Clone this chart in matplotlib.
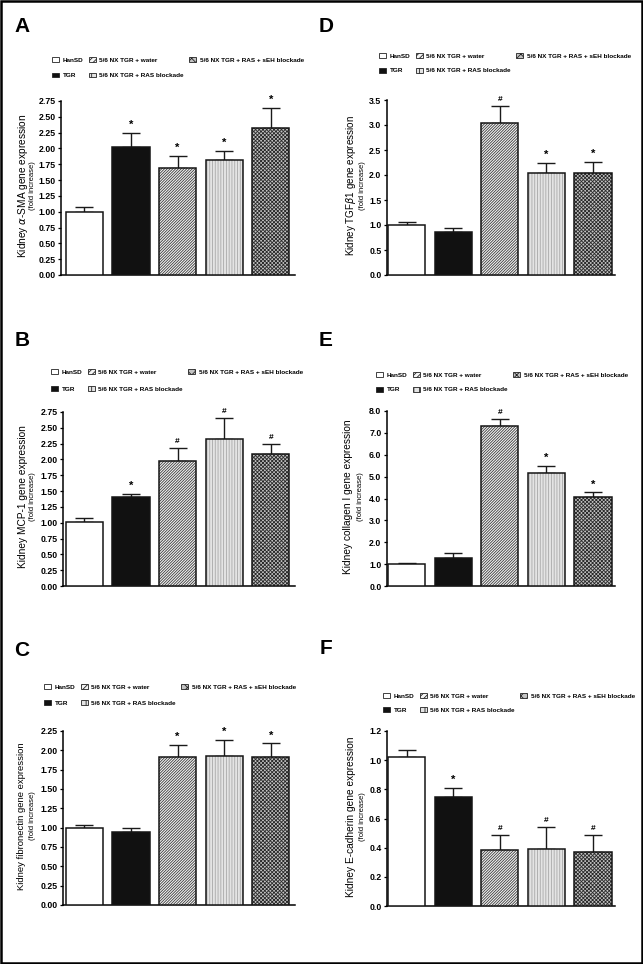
import matplotlib
matplotlib.use('Agg')
import matplotlib.pyplot as plt
from matplotlib.patches import Patch, Rectangle
from matplotlib.ticker import MultipleLocator, FormatStrFormatter
import numpy as np

plt.rcParams['font.family'] = ['Liberation Sans', 'DejaVu Sans']
plt.rcParams['hatch.linewidth'] = 0.6

W, H = 643, 964

groups = ['HanSD', 'TGR', '5/6 NX TGR + water', '5/6 NX TGR + RAS blockade',
          '5/6 NX TGR + RAS + sEH blockade']

# A - alpha-SMA
sma_mean = [0.99, 2.03, 1.69, 1.82, 2.32]
sma_sem = [0.08, 0.22, 0.19, 0.14, 0.32]
sma_sig = ['', '*', '*', '*', '*']

# B - MCP-1
mcp_mean = [1.01, 1.40, 1.98, 2.33, 2.08]
mcp_sem = [0.06, 0.06, 0.20, 0.33, 0.17]
mcp_sig = ['', '*', '#', '#', '#']

# C - fibronectin
fn_mean = [1.00, 0.95, 1.91, 1.93, 1.91]
fn_sem = [0.04, 0.05, 0.16, 0.21, 0.18]
fn_sig = ['', '', '*', '*', '*']

# D - TGFb1
tgf_mean = [1.00, 0.86, 3.05, 2.04, 2.04]
tgf_sem = [0.06, 0.08, 0.34, 0.20, 0.22]
tgf_sig = ['', '', '#', '*', '*']

# E - collagen I
col_mean = [0.99, 1.30, 7.33, 5.15, 4.05]
col_sem = [0.06, 0.19, 0.31, 0.34, 0.23]
col_sig = ['', '', '#', '*', '*']

# F - E-cadherin
ecad_mean = [1.02, 0.75, 0.385, 0.39, 0.37]
ecad_sem = [0.05, 0.06, 0.105, 0.15, 0.12]
ecad_sig = ['', '*', '#', '#', '#']

# bar styles per group
fills = ['white', '#111111', '#f4f4f4', '#e4e4e4', '#c4c4c4']
hatches = ['', '', '////////////', '||||||', 'xxxxxxxxx']
hatch_colors = ['#1a1a1a', '#1a1a1a', '#3a3a3a', '#a8a8a8', '#2a2a2a']
legend_hatches = ['', '', '//////', '|||', 'xxxx']

# layout in pixels: axes box (left, top, right, bottom), xlim, letter pos, ylabel x's, legend pos
panels = [
    dict(letter='A', mean=sma_mean, sem=sma_sem, sig=sma_sig, ymax=2.75, step=0.25, fmt='%.2f',
         ylabel='Kidney $\\alpha$-SMA gene expression', lsize=7.3,
         box=(61, 101, 295, 275), xlim=(-0.5, 4.52), let=(22, 26), ylx=(23, 33), leg=(52, 61, 14)),
    dict(letter='B', mean=mcp_mean, sem=mcp_sem, sig=mcp_sig, ymax=2.75, step=0.25, fmt='%.2f',
         ylabel='Kidney MCP-1 gene expression', lsize=7.3,
         box=(63, 412, 295, 586), xlim=(-0.46, 4.52), let=(22, 340), ylx=(23, 33), leg=(51, 373, 16)),
    dict(letter='C', mean=fn_mean, sem=fn_sem, sig=fn_sig, ymax=2.25, step=0.25, fmt='%.2f',
         ylabel='Kidney fibronectin gene expression', lsize=6.8,
         box=(63, 731, 295, 905), xlim=(-0.46, 4.52), let=(22, 651), ylx=(22, 32), leg=(44, 688, 15)),
    dict(letter='D', mean=tgf_mean, sem=tgf_sem, sig=tgf_sig, ymax=3.5, step=0.5, fmt='%.1f',
         ylabel='Kidney TGF$\\beta$1 gene expression', lsize=7.1,
         box=(387, 100, 615, 275), xlim=(-0.42, 4.47), let=(326, 26), ylx=(351, 362), leg=(379, 57, 13)),
    dict(letter='E', mean=col_mean, sem=col_sem, sig=col_sig, ymax=8.0, step=1.0, fmt='%.1f',
         ylabel='Kidney collagen I gene expression', lsize=7.3,
         box=(387, 411, 615, 586), xlim=(-0.42, 4.47), let=(326, 340), ylx=(348, 360), leg=(376, 376, 13)),
    dict(letter='F', mean=ecad_mean, sem=ecad_sem, sig=ecad_sig, ymax=1.2, step=0.2, fmt='%.1f',
         ylabel='Kidney E-cadherin gene expression', lsize=7.3,
         box=(387, 731, 615, 906), xlim=(-0.42, 4.47), let=(326, 648), ylx=(351, 362), leg=(383, 697, 12)),
]


def px_axes(fig, left, top, right, bottom):
    return fig.add_axes([left / W, 1 - bottom / H, (right - left) / W, (bottom - top) / H])


def draw_panel(fig, p):
    ax = px_axes(fig, *p['box'])
    x = np.arange(len(groups))
    means = np.array(p['mean'])
    sems = np.array(p['sem'])

    ax.errorbar(x, means, yerr=[np.zeros(len(x)), sems], fmt='none', ecolor='#1a1a1a',
                elinewidth=1.0, capsize=6.8, capthick=1.0, zorder=2)
    for i in range(len(x)):
        # hatch layer first, then the outline on top
        ax.bar(x[i], means[i], width=0.8, color=fills[i], edgecolor=hatch_colors[i],
               hatch=hatches[i], linewidth=0, zorder=3)
        ax.bar(x[i], means[i], width=0.8, fill=False, edgecolor='#151515', linewidth=1.1, zorder=4)
        if p['sig'][i]:
            s = p['sig'][i]
            ax.annotate(s, (x[i], means[i] + sems[i]), xytext=(0, 3.5), textcoords='offset points',
                        ha='center', va='baseline', fontweight='bold',
                        fontsize=8 if s == '*' else 6)

    ax.set_xlim(*p['xlim'])
    ax.set_ylim(0, p['ymax'])
    ax.yaxis.set_major_locator(MultipleLocator(p['step']))
    ax.yaxis.set_major_formatter(FormatStrFormatter(p['fmt']))
    ax.set_xticks([])
    ax.spines['top'].set_visible(False)
    ax.spines['right'].set_visible(False)
    ax.spines['left'].set_linewidth(1.1)
    ax.spines['bottom'].set_linewidth(1.1)
    ax.tick_params(axis='y', length=2.5, width=0.9, pad=1.5, labelsize=6.3)
    plt.setp(ax.get_yticklabels(), fontweight='bold')

    left, top, right, bottom = p['box']
    yc = (top + bottom) / 2 - 2
    fig.text(p['ylx'][0] / W, 1 - yc / H, p['ylabel'], rotation=90, ha='center', va='center',
             fontsize=p['lsize'])
    fig.text(p['ylx'][1] / W, 1 - yc / H, '(fold increase)', rotation=90, ha='center', va='center',
             fontsize=5.5)

    fig.text(p['let'][0] / W, 1 - p['let'][1] / H, p['letter'], fontsize=15, fontweight='bold',
             ha='center', va='center')

    handles = [Patch(facecolor=fills[i], edgecolor='#222222', hatch=legend_hatches[i], linewidth=0.6)
               for i in range(len(groups))]
    lx, ly, gap = p['leg']
    fig.legend(handles, groups, ncol=3, loc='upper left',
               bbox_to_anchor=(lx / W, 1 - (ly - 4) / H), frameon=False,
               prop={'size': 4.6, 'weight': 'bold'}, handlelength=1.1, handleheight=0.8,
               handletextpad=0.6, columnspacing=0.8, labelspacing=gap / 8.0 - 0.2,
               borderpad=0, borderaxespad=0)
    return ax


fig = plt.figure(figsize=(W / 100, H / 100), dpi=100)
for p in panels:
    draw_panel(fig, p)

fig.add_artist(Rectangle((1 / W, 1 / H), 1 - 2 / W, 1 - 2 / H, transform=fig.transFigure,
                         fill=False, edgecolor='black', linewidth=1.8))

fig.savefig('out.png', dpi=100)
